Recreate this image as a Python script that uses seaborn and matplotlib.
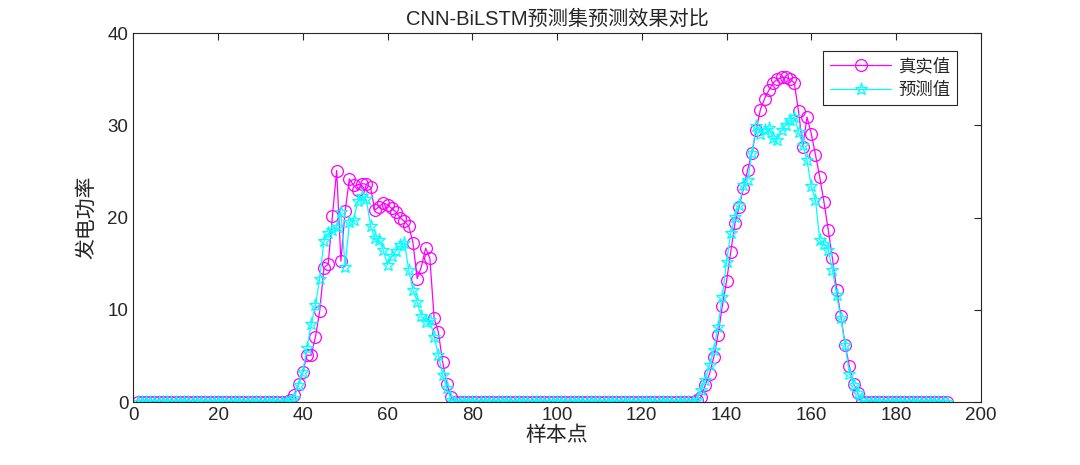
import numpy as np
import pandas as pd
import matplotlib
matplotlib.use('Agg')
import matplotlib.pyplot as plt
import seaborn as sns

# sample index 1..192, zero outside the two daytime humps
n_samples = 192

hump1_start = 36
hump1_true = [0, 0.2, 0.8, 1.95, 3.25, 5.1, 5.1, 7.1, 9.9, 14.6, 14.95, 20.2, 25.1, 15.3,
              20.7, 24.2, 23.5, 23.0, 23.7, 23.6, 23.3, 20.8, 21.2, 21.6, 21.4, 21.0, 20.6,
              20.0, 19.6, 19.1, 17.3, 13.4, 14.7, 16.7, 15.6, 9.1, 7.6, 4.4, 1.95, 0.6, 0]
hump1_pred = [0, 0.1, 0.5, 1.9, 3.3, 5.9, 8.5, 10.5, 13.4, 17.5, 18.3, 18.7, 19.0, 20.6,
              14.7, 19.5, 19.8, 21.8, 22.3, 22.0, 19.1, 17.8, 17.6, 16.5, 14.9, 15.8, 16.4,
              17.0, 17.3, 14.3, 12.2, 10.9, 9.3, 8.7, 8.9, 7.1, 5.1, 3.0, 1.5, 0.3, 0]

hump2_start = 132
hump2_true = [0, 0.2, 0.6, 1.9, 3.1, 4.9, 7.3, 10.4, 13.1, 16.3, 19.4, 21.2, 23.2, 25.2,
              27.0, 29.5, 31.7, 32.9, 33.8, 34.6, 35.0, 35.2, 35.2, 35.0, 34.6, 31.5, 27.7,
              30.9, 29.1, 26.8, 24.4, 21.7, 18.7, 15.6, 12.2, 9.3, 6.2, 3.9, 2.0, 1.0, 0]
hump2_pred = [0, 0.3, 1.3, 2.4, 4.0, 5.7, 8.2, 11.4, 15.2, 18.3, 20.1, 21.4, 23.5, 24.1,
              27.0, 29.9, 29.1, 29.5, 29.7, 28.6, 28.4, 29.5, 30.0, 30.6, 30.9, 29.3, 27.9,
              26.2, 23.4, 21.9, 17.6, 17.2, 16.5, 14.3, 11.6, 9.1, 6.2, 3.1, 1.9, 1.0, 0.2]

x = np.arange(1, n_samples + 1)
y_true = np.zeros(n_samples)
y_pred = np.zeros(n_samples)
y_true[hump1_start - 1:hump1_start - 1 + len(hump1_true)] = hump1_true
y_pred[hump1_start - 1:hump1_start - 1 + len(hump1_pred)] = hump1_pred
y_true[hump2_start - 1:hump2_start - 1 + len(hump2_true)] = hump2_true
y_pred[hump2_start - 1:hump2_start - 1 + len(hump2_pred)] = hump2_pred

df = pd.DataFrame({'x': x, 'true': y_true, 'pred': y_pred})

sns.set_style('white')
plt.rcParams['font.family'] = ['Liberation Sans', 'Noto Sans CJK SC']
plt.rcParams['axes.unicode_minus'] = False

txt = '#262626'
fig = plt.figure(figsize=(10.8, 4.65), dpi=100)
ax = fig.add_axes([0.1234, 0.1348, 0.7847, 0.7942])

sns.lineplot(data=df, x='x', y='true', ax=ax, color='#FF00FF', lw=0.9,
             marker='o', markersize=8.5, markerfacecolor='none', markeredgecolor='#FF00FF',
             markeredgewidth=0.9, label='真实值')
sns.lineplot(data=df, x='x', y='pred', ax=ax, color='#00FFFF', lw=0.9,
             marker='*', markersize=9.5, markerfacecolor='none', markeredgecolor='#00FFFF',
             markeredgewidth=0.9, label='预测值')

ax.set_xlim(0, 200)
ax.set_ylim(0, 40)
ax.set_xticks(range(0, 201, 20))
ax.set_yticks(range(0, 41, 10))
ax.tick_params(direction='in', length=5, width=0.8, colors=txt, labelsize=13.5,
               top=True, right=True, labeltop=False, labelright=False)
for s in ax.spines.values():
    s.set_color('#262626')
    s.set_linewidth(0.8)

ax.set_title('CNN-BiLSTM预测集预测效果对比', fontsize=14.5, color=txt, pad=6)
ax.set_xlabel('样本点', fontsize=15, color=txt, labelpad=1)
ax.set_ylabel('发电功率', fontsize=15, color=txt, labelpad=8)

leg = ax.legend(loc='upper right', bbox_to_anchor=(0.972, 0.952), borderaxespad=0,
                fancybox=False, framealpha=1, edgecolor='#262626', fontsize=12.5,
                handlelength=3.5, labelspacing=0.45, borderpad=0.4, handletextpad=0.4)
leg.get_frame().set_linewidth(0.8)
for t in leg.get_texts():
    t.set_color(txt)

fig.savefig('out.png', dpi=100, facecolor='white')
